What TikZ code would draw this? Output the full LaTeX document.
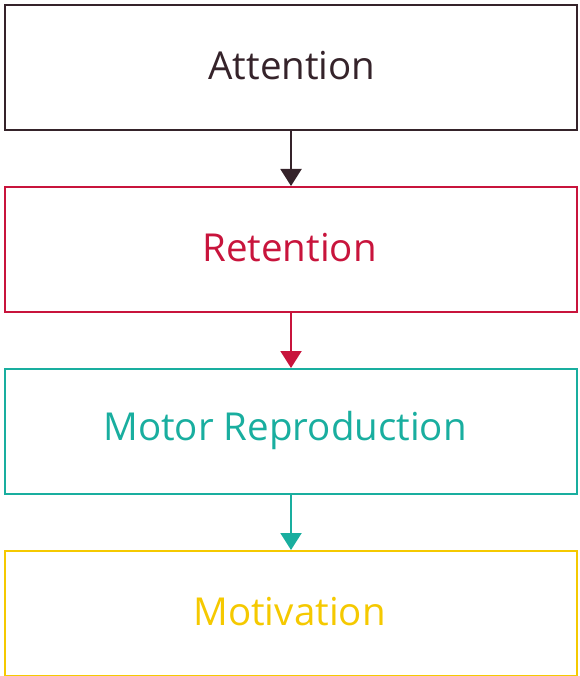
\documentclass[tikz,border=0pt]{standalone}
\usepackage{fontspec}
\setmainfont{Open Sans}
\usetikzlibrary{arrows.meta}
\definecolor{cA}{HTML}{35232A}
\definecolor{cR}{HTML}{C8143C}
\definecolor{cM}{HTML}{19AE9F}
\definecolor{cV}{HTML}{F5C900}
\tikzset{
  x=1pt,y=1pt,
  stagebox/.style={draw, line width=2pt, minimum width=572pt, minimum height=125pt,
    inner sep=0pt, anchor=north west},
  stagetext/.style={font=\fontsize{38.5}{46}\selectfont, inner sep=0pt, yshift=1.5pt},
  flow/.style={line width=2pt, -{Triangle[length=17pt,width=21pt]}, shorten >=0pt}
}
\begin{document}
\begin{tikzpicture}
\useasboundingbox (0,0) rectangle (579,-676);
\node[stagebox, draw=cA,
  label={[stagetext, text=cA, xshift=1pt]center:Attention}] (att) at (4,-4) {};
\node[stagebox, draw=cR,
  label={[stagetext, text=cR, xshift=-1.5pt]center:Retention}] (ret) at (4,-186) {};
\node[stagebox, draw=cM,
  label={[stagetext, text=cM, xshift=-6pt]center:Motor Reproduction}] (mot) at (4,-368) {};
\node[stagebox, draw=cV,
  label={[stagetext, text=cV, xshift=-1.5pt]center:Motivation}] (motv) at (4,-550) {};
\draw[flow, draw=cA, fill=cA] (att.south) -- (ret.north);
\draw[flow, draw=cR, fill=cR] (ret.south) -- (mot.north);
\draw[flow, draw=cM, fill=cM] (mot.south) -- (motv.north);
\end{tikzpicture}
\end{document}
